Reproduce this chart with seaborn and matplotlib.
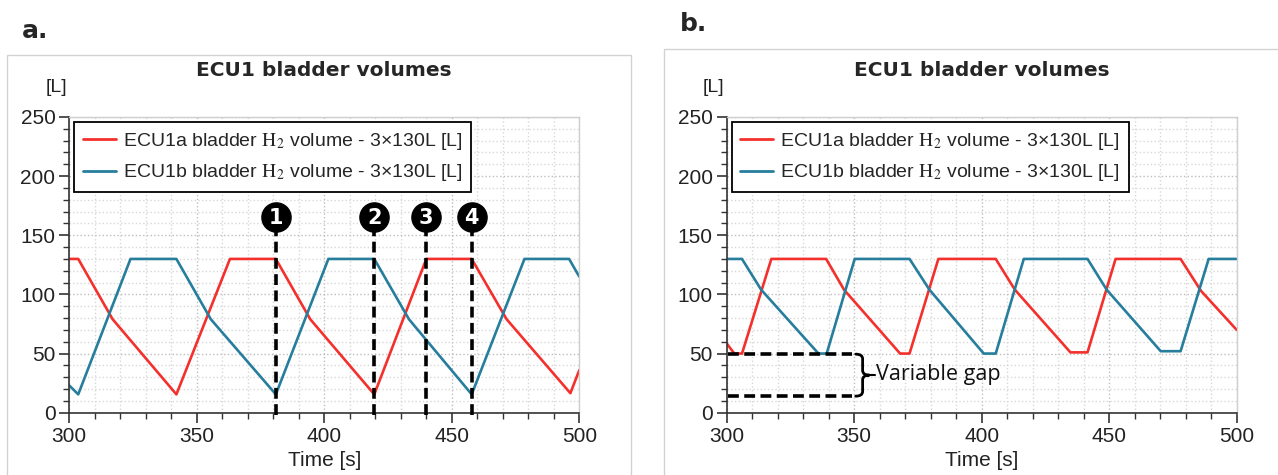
"""
ECU1 bladder volumes - two runs side by side (a: fixed marks, b: variable gap)
"""
import numpy as np
import pandas as pd
import matplotlib
matplotlib.use("Agg")
import matplotlib.pyplot as plt
import seaborn as sns
from matplotlib import font_manager
from matplotlib.path import Path
from matplotlib.patches import PathPatch, Rectangle
from matplotlib.ticker import MultipleLocator

# ---- data ----
# panel a
a_red_t = [300, 303.5, 317, 342, 363, 381, 394.5, 419.6, 440, 457.8, 471.5, 496.5, 500]
a_red_v = [130, 130, 79, 15.5, 130, 130, 79, 15.5, 130, 130, 79, 16.5, 36]
a_blue_t = [300, 303.5, 324, 342, 355.5, 381, 401.6, 419.6, 433.2, 457.8, 478.5, 496, 500]
a_blue_v = [23, 15.5, 130, 130, 79, 15.5, 130, 130, 79, 15.5, 130, 130, 115]

# panel b
b_red_t = [300, 303, 306, 317.5, 339, 346, 368, 371.7, 383, 405.5, 413, 434.8, 441.5,
           452.5, 478, 486, 500]
b_red_v = [58.5, 50, 50, 130, 130, 104, 50, 50, 130, 130, 104, 51, 51, 130, 130, 103, 70]
b_blue_t = [300, 306, 313.5, 336, 339.2, 350.2, 371.7, 379.5, 400.8, 405.5, 416.5, 441.5,
            449, 470.2, 478, 489, 500]
b_blue_v = [130, 130, 104, 50, 50, 130, 130, 104, 50, 50, 130, 130, 104, 52, 52, 130, 130]

# annotations
marker_times = [381, 419.6, 440, 457.8]
marker_labels = ["1", "2", "3", "4"]
gap_levels = [49.5, 14]

label_a = "ECU1a bladder $\\mathrm{H}_2$ volume - 3\u00d7130L [L]"
label_b = "ECU1b bladder $\\mathrm{H}_2$ volume - 3\u00d7130L [L]"
title = "ECU1 bladder volumes"

red = "#f4302c"
blue = "#267e9c"

W, H = 1278, 475

sns.set_style("white")
available = {f.name for f in font_manager.fontManager.ttflist}
main_font = "Liberation Sans Narrow" if "Liberation Sans Narrow" in available else "Liberation Sans"
plt.rcParams["font.family"] = [main_font, "DejaVu Sans"]
plt.rcParams["mathtext.fontset"] = "stix"


def px(x, y):
    # pixel position -> figure fraction
    return x / W, 1 - y / H


def brace(ax, x0, y_top, y_bot, w, r):
    ym = (y_top + y_bot) / 2
    xm = x0 + w / 2
    verts = [(x0, y_top), (xm, y_top), (xm, y_top - r), (xm, ym + r),
             (xm, ym), (x0 + w, ym), (xm, ym), (xm, ym - r),
             (xm, y_bot + r), (xm, y_bot), (x0, y_bot)]
    codes = [Path.MOVETO, Path.CURVE3, Path.CURVE3, Path.LINETO,
             Path.CURVE3, Path.CURVE3, Path.CURVE3, Path.CURVE3,
             Path.LINETO, Path.CURVE3, Path.CURVE3]
    ax.add_patch(PathPatch(Path(verts, codes), fill=False, lw=2, color="black",
                           capstyle="round", zorder=6))


def style_axes(ax):
    ax.set_xlim(300, 500)
    ax.set_ylim(0, 250)
    ax.xaxis.set_major_locator(MultipleLocator(50))
    ax.xaxis.set_minor_locator(MultipleLocator(10))
    ax.yaxis.set_major_locator(MultipleLocator(50))
    ax.yaxis.set_minor_locator(MultipleLocator(10))
    ax.grid(which="major", ls=":", color="#bdbdbd", lw=1)
    ax.grid(which="minor", ls=":", color="#d8d8d8", lw=1)
    ax.tick_params(which="major", direction="out", length=7, width=1.2,
                   color="#333333", labelsize=15, labelcolor="#222222", pad=3,
                   left=True, bottom=True)
    ax.tick_params(which="minor", direction="out", length=4, width=1,
                   color="#333333", left=True, bottom=True)
    for s in ["left", "bottom"]:
        ax.spines[s].set_color("#333333")
        ax.spines[s].set_linewidth(1.2)
    for s in ["top", "right"]:
        ax.spines[s].set_color("#cfcfcf")
        ax.spines[s].set_linewidth(1)
    ax.set_xlabel("Time [s]", fontsize=15, color="#222222", labelpad=4)
    ax.set_ylabel("")


fig = plt.figure(figsize=(W / 100, H / 100), dpi=100)

# outer panel frames
fig.patches.append(Rectangle(px(7, 480), 624 / W, 425 / H, transform=fig.transFigure,
                             fill=False, ec="#d2d2d2", lw=1))
fig.patches.append(Rectangle(px(664, 480), 620 / W, 431 / H, transform=fig.transFigure,
                             fill=False, ec="#d2d2d2", lw=1))

panels = [
    (69.3, a_red_t, a_red_v, a_blue_t, a_blue_v),
    (726.7, b_red_t, b_red_v, b_blue_t, b_blue_v),
]
axes = []
for left, rt, rv, bt, bv in panels:
    x0, y0 = px(left, 412.7)
    ax = fig.add_axes([x0, y0, 510 / W, (412.7 - 117) / H])
    df_r = pd.DataFrame({"t": rt, "v": rv})
    df_b = pd.DataFrame({"t": bt, "v": bv})
    sns.lineplot(data=df_r, x="t", y="v", ax=ax, color=red, lw=1.9,
                 estimator=None, label=label_a)
    sns.lineplot(data=df_b, x="t", y="v", ax=ax, color=blue, lw=1.9,
                 estimator=None, label=label_b)
    style_axes(ax)
    leg = ax.legend(loc="upper left", fontsize=14, frameon=True, fancybox=False,
                    framealpha=1, edgecolor="black", borderpad=0.45, labelspacing=0.55,
                    handlelength=1.7, handletextpad=0.35, borderaxespad=0.25)
    leg.get_frame().set_linewidth(1.3)
    for line in leg.get_lines():
        line.set_linewidth(2)
    # titles and labels outside the axes
    cx = left + 255
    fig.text(*px(cx, 70), title, ha="center", va="center", fontsize=14.5,
             weight="bold", family="DejaVu Sans")
    fig.text(*px(left - 13, 88), "[L]", ha="center", va="center", fontsize=14,
             color="#222222")
    axes.append(ax)

fig.text(*px(22, 38), "a.", ha="left", va="baseline", fontsize=18, weight="bold",
         family="DejaVu Sans")
fig.text(*px(680, 31), "b.", ha="left", va="baseline", fontsize=18, weight="bold",
         family="DejaVu Sans")

# panel a: numbered dashed markers
ax = axes[0]
for t, lab in zip(marker_times, marker_labels):
    ax.plot([t, t], [-2, 158], ls=(0, (3.0, 1.5)), color="black", lw=2.6,
            clip_on=False, zorder=4)
    ax.plot(t, 165.5, "o", ms=21, color="black", zorder=5, clip_on=False)
    ax.text(t, 165, lab, color="white", weight="bold", ha="center",
            va="center", fontsize=15, family="DejaVu Sans", zorder=6)

# panel b: variable gap
ax = axes[1]
for lvl in gap_levels:
    ax.plot([300.5, 349], [lvl, lvl], ls=(0, (3.0, 1.5)), color="black", lw=2.6,
            zorder=4)
brace(ax, 350.6, gap_levels[0], gap_levels[1], 5.4, 4)
ax.plot([356, 358.2], [np.mean(gap_levels)] * 2, color="black", lw=1.5, zorder=6)
ax.text(358.4, np.mean(gap_levels) + 0.5, "Variable gap", ha="left", va="center",
        fontsize=15.5, family=["Open Sans", "DejaVu Sans"], color="#111111", zorder=6)

fig.savefig("out.png", dpi=100)
